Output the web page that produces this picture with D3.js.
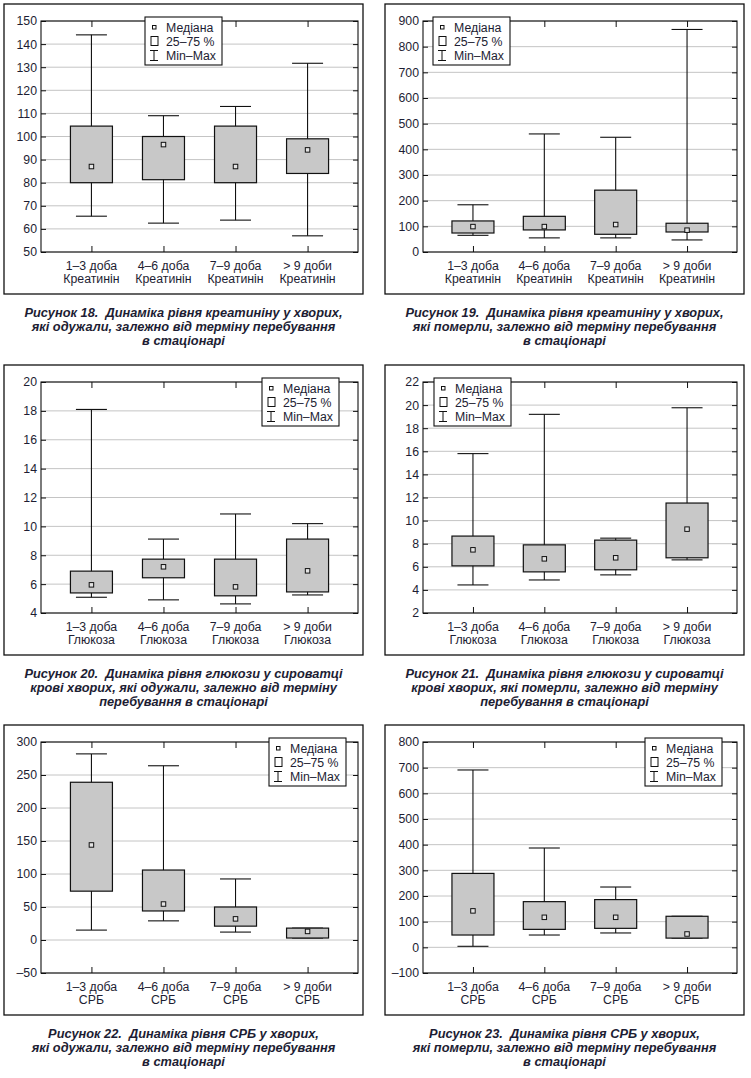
<!DOCTYPE html>
<html>
<head>
<meta charset="utf-8">
<script src="https://cdn.jsdelivr.net/npm/d3@7"></script>
<style>
  body { margin: 0; background: #fff; }
  text { font-family: "Liberation Sans", Arial, sans-serif; fill: #1d1d33; }
</style>
</head>
<body>
<div id="chart"></div>
<script>
// categories on the x axis (first line of each label)
const periods = ["1–3 доба", "4–6 доба", "7–9 доба", "> 9 доби"];

// each row: [min, q25, median, q75, max] per period
const creatRecovered = [[65.5, 80, 87, 104.5, 144], [62.5, 81.3, 96.5, 100, 109], [63.8, 80, 87, 104.5, 113], [57, 84, 94.2, 99, 131.7]];
const creatDied = [[65, 74, 99, 121, 184], [55, 86, 99, 139, 460], [55, 69, 107, 241, 447], [47, 78, 85, 112, 867]];
const glucRecovered = [[5.09, 5.39, 5.95, 6.9, 18.1], [4.91, 6.44, 7.2, 7.73, 9.12], [4.63, 5.19, 5.81, 7.73, 10.86], [5.25, 5.46, 6.92, 9.12, 10.19]];
const glucDied = [[4.43, 6.08, 7.47, 8.66, 15.8], [4.86, 5.56, 6.69, 7.9, 19.2], [5.3, 5.74, 6.78, 8.31, 8.48], [6.6, 6.78, 9.26, 11.52, 19.77]];
const crpRecovered = [[15, 74, 144, 239, 282], [29, 44, 54.5, 106, 264], [12, 21, 32, 50, 92.5], [3, 3, 13, 18, 18]];
const crpDied = [[4, 48, 142, 288, 691], [48, 70, 117, 178, 387], [56, 74, 117, 186, 235], [36, 36, 52, 121, 121]];

// y tick labels
const ticks18 = [50, 60, 70, 80, 90, 100, 110, 120, 130, 140, 150];
const ticks19 = [0, 100, 200, 300, 400, 500, 600, 700, 800, 900];
const ticks20 = [4, 6, 8, 10, 12, 14, 16, 18, 20];
const ticks21 = [2, 4, 6, 8, 10, 12, 14, 16, 18, 20, 22];
const ticks22 = [-50, 0, 50, 100, 150, 200, 250, 300];
const ticks23 = [-100, 0, 100, 200, 300, 400, 500, 600, 700, 800];

const legendLabels = ["Медіана", "25–75 %", "Min–Max"];

const panels = [
  { col: 0, row: 0, data: creatRecovered, ticks: ticks18, sub: "Креатинін", legendX: 104,
    caption: ["Рисунок 18.  Динаміка рівня креатиніну у хворих,", "які одужали, залежно від терміну перебування", "в стаціонарі"] },
  { col: 1, row: 0, data: creatDied, ticks: ticks19, sub: "Креатинін", legendX: 10,
    caption: ["Рисунок 19.  Динаміка рівня креатиніну у хворих,", "які померли, залежно від терміну перебування", "в стаціонарі"] },
  { col: 0, row: 1, data: glucRecovered, ticks: ticks20, sub: "Глюкоза", legendX: 221,
    caption: ["Рисунок 20.  Динаміка рівня глюкози у сироватці", "крові хворих, які одужали, залежно від терміну", "перебування в стаціонарі"] },
  { col: 1, row: 1, data: glucDied, ticks: ticks21, sub: "Глюкоза", legendX: 11,
    caption: ["Рисунок 21.  Динаміка рівня глюкози у сироватці", "крові хворих, які померли, залежно від терміну", "перебування в стаціонарі"] },
  { col: 0, row: 2, data: crpRecovered, ticks: ticks22, sub: "СРБ", legendX: 228,
    caption: ["Рисунок 22.  Динаміка рівня СРБ у хворих,", "які одужали, залежно від терміну перебування", "в стаціонарі"] },
  { col: 1, row: 2, data: crpDied, ticks: ticks23, sub: "СРБ", legendX: 222,
    caption: ["Рисунок 23.  Динаміка рівня СРБ у хворих,", "які померли, залежно від терміну перебування", "в стаціонарі"] }
];

const frameX = [4, 385], frameY = [4, 365, 725];
const frameW = 359, frameH = 290;
const plotLeft = [37, 38], plotW = [317, 314];
const fs = "12.3px";

const svg = d3.select("#chart")
  .append("svg")
  .attr("width", 751)
  .attr("height", 1078);

panels.forEach(p => {
  const fx = frameX[p.col], fy = frameY[p.row];
  const g = svg.append("g");

  // outer frame
  g.append("rect")
    .attr("x", fx).attr("y", fy)
    .attr("width", frameW).attr("height", frameH)
    .attr("fill", "none").attr("stroke", "#111").attr("stroke-width", 1.3);

  const left = fx + plotLeft[p.col], top = fy + 17;
  const w = plotW[p.col], h = 231;
  const plot = g.append("g").attr("transform", `translate(${left},${top})`);

  const x = d3.scalePoint().domain(periods).range([0, w]).padding(0.7);
  const y = d3.scaleLinear().domain(d3.extent(p.ticks)).range([h, 0]);

  // grid
  plot.selectAll(".grid")
    .data(p.ticks)
    .join("line")
    .attr("x1", 0).attr("x2", w)
    .attr("y1", d => y(d)).attr("y2", d => y(d))
    .attr("stroke", "#c4c4c4").attr("stroke-width", 1);

  // axes with inward ticks
  const yl = plot.append("g")
    .call(d3.axisLeft(y).tickValues(p.ticks).tickSize(-5).tickSizeOuter(0).tickPadding(4)
      .tickFormat(d => d < 0 ? "–" + Math.abs(d) : d));
  yl.selectAll("text")
    .style("font-size", fs)
    .attr("fill", "#1d1d33");
  plot.append("g").attr("transform", `translate(${w},0)`)
    .call(d3.axisRight(y).tickValues(p.ticks).tickSize(-5).tickSizeOuter(0).tickFormat(""));
  plot.append("g").attr("transform", `translate(0,${h})`)
    .call(d3.axisBottom(x).tickSize(-6).tickSizeOuter(0).tickFormat(""));
  plot.append("g")
    .call(d3.axisTop(x).tickSize(-6).tickSizeOuter(0).tickFormat(""));
  plot.selectAll(".domain").remove();
  plot.selectAll(".tick line").attr("stroke", "#111");

  plot.append("rect")
    .attr("width", w).attr("height", h)
    .attr("fill", "none").attr("stroke", "#111").attr("stroke-width", 1.1);

  // boxes
  const boxW = 42, capW = 31, medS = 4.5;
  const items = plot.selectAll(".item")
    .data(p.data)
    .join("g")
    .attr("transform", (d, i) => `translate(${x(periods[i])},0)`);

  items.append("line")
    .attr("y1", d => y(d[0])).attr("y2", d => y(d[4]))
    .attr("stroke", "#111").attr("stroke-width", 1.1);
  items.append("line")
    .attr("x1", -capW / 2).attr("x2", capW / 2)
    .attr("y1", d => y(d[4])).attr("y2", d => y(d[4]))
    .attr("stroke", "#111").attr("stroke-width", 1.1);
  items.append("line")
    .attr("x1", -capW / 2).attr("x2", capW / 2)
    .attr("y1", d => y(d[0])).attr("y2", d => y(d[0]))
    .attr("stroke", "#111").attr("stroke-width", 1.1);
  items.append("rect")
    .attr("x", -boxW / 2).attr("width", boxW)
    .attr("y", d => y(d[3])).attr("height", d => y(d[1]) - y(d[3]))
    .attr("fill", "#c8c8c8").attr("stroke", "#111").attr("stroke-width", 1.2);
  items.append("rect")
    .attr("x", -medS / 2).attr("width", medS)
    .attr("y", d => y(d[2]) - medS / 2).attr("height", medS)
    .attr("fill", "#e4e4e4").attr("stroke", "#111").attr("stroke-width", 1);

  // x labels, two lines each
  const lab = plot.selectAll(".xl")
    .data(periods)
    .join("text")
    .attr("text-anchor", "middle")
    .style("font-size", fs);
  lab.append("tspan").attr("x", d => x(d)).attr("y", h + 18).text(d => d);
  lab.append("tspan").attr("x", d => x(d)).attr("y", h + 30.5).text(p.sub);

  // legend
  const lg = plot.append("g").attr("transform", `translate(${p.legendX},-4)`);
  lg.append("rect")
    .attr("width", 77).attr("height", 48)
    .attr("fill", "#fff").attr("stroke", "#111").attr("stroke-width", 1.1);
  lg.append("rect").attr("x", 7.5).attr("y", 8.5).attr("width", 3.5).attr("height", 3.5)
    .attr("fill", "#fff").attr("stroke", "#111").attr("stroke-width", 1);
  lg.append("rect").attr("x", 6).attr("y", 19.5).attr("width", 7).attr("height", 9)
    .attr("fill", "#fff").attr("stroke", "#111").attr("stroke-width", 1);
  lg.append("path")
    .attr("d", "M5,33.5H13M9,33.5V43.5M5,43.5H13")
    .attr("fill", "none").attr("stroke", "#111").attr("stroke-width", 1);
  lg.selectAll(".lt")
    .data(legendLabels)
    .join("text")
    .attr("x", 21)
    .attr("y", (d, i) => 15 + i * 14)
    .style("font-size", fs)
    .text(d => d);

  // caption
  const cx = fx + frameW / 2;
  const cy = fy + frameH + 22.5;
  g.selectAll(".cap")
    .data(p.caption)
    .join("text")
    .attr("x", cx)
    .attr("y", (d, i) => cy + i * 14.3)
    .attr("text-anchor", "middle")
    .style("font-size", "12.8px")
    .style("font-weight", "bold")
    .style("font-style", "italic")
    .style("white-space", "pre")
    .text(d => d);
});
</script>
</body>
</html>
